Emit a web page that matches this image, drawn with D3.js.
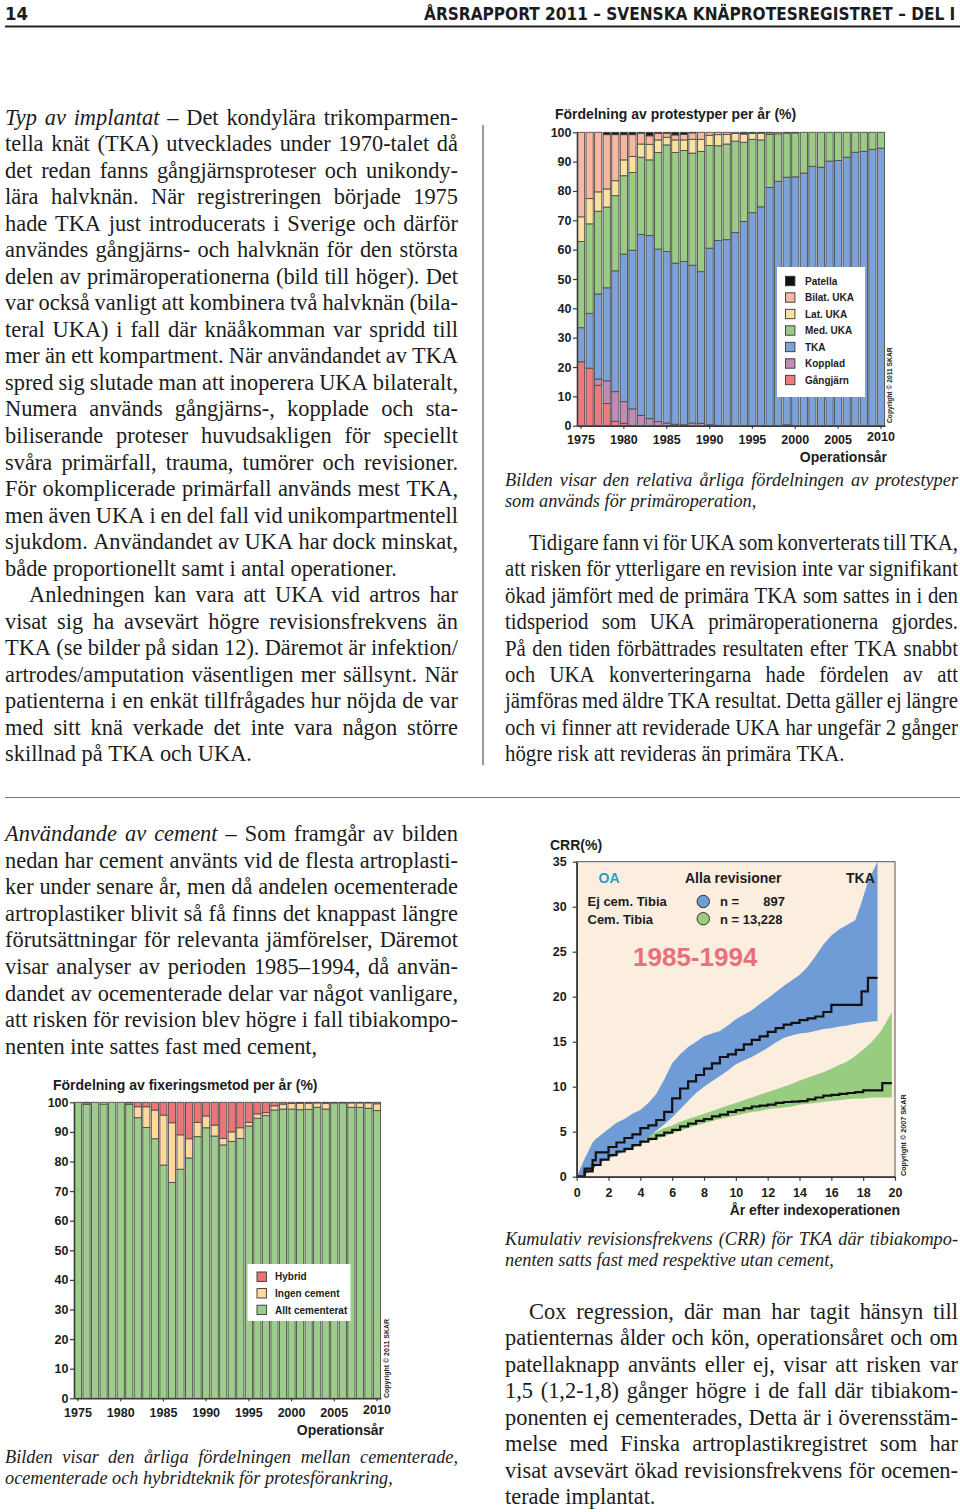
<!DOCTYPE html>
<html><head><meta charset="utf-8">
<script src="https://cdn.jsdelivr.net/npm/d3@7/dist/d3.min.js"></script>
<style>
html,body{margin:0;padding:0;background:#fff;}
svg{display:block;}
</style></head>
<body>
<svg id="page" width="960" height="1512"></svg>
<script>
// ---------------- DATA ----------------
const topYears = [1975,1976,1977,1978,1979,1980,1981,1982,1983,1984,1985,1986,1987,1988,1989,1990,1991,1992,1993,1994,1995,1996,1997,1998,1999,2000,2001,2002,2003,2004,2005,2006,2007,2008,2009,2010];
const gangjarn = [21.8,19.6,13.8,7.6,1.5,0.8,0,0,0,0,0,0,0,0,0,0,0,0,0,0,0,0,0,0,0,0,0,0,0,0,0,0,0,0,0,0];
const kopplad  = [0,0,2.1,7.7,10.1,7.4,5.7,3.5,2.4,1.4,0.9,0.5,0.3,0.9,0.8,0.3,0.1,0,0,0,0,0,0,0,0.3,0,0,0,0,0,0,0,0,0,0,0];
const tka      = [11.6,18.7,29.0,31.7,41.2,50.3,54.1,61.7,62.4,58.8,58.5,54.9,55.7,53.8,51.7,60.2,63.0,63.4,65.8,69.6,72.6,74.6,81.2,83.3,84.4,84.8,86.1,88.4,88.1,90.2,90.4,91.5,93.2,93.5,94.2,94.6];
const medUka   = [29.4,30.5,28.2,27.5,25.6,26.7,26.5,26.3,25.8,32.9,36.3,37.7,37.8,38.2,41.0,35.0,32.3,32.6,31.2,27.0,25.0,22.8,18.1,16.2,15.0,15.0,13.9,11.6,11.9,9.8,9.6,8.5,6.8,6.5,5.8,5.4];
const latUka   = [8.4,8.6,6.6,6.2,5.1,5.4,5.5,4.5,5.3,4.3,2.6,4.3,3.6,4.7,4.1,3.5,3.8,3.3,2.6,2.8,2.0,2.3,0.5,0.5,0.3,0.2,0,0,0,0,0,0,0,0,0,0];
const bilatUka = [28.8,22.6,20.3,18.5,15.7,8.6,7.4,3.7,2.9,2.2,1.4,1.7,1.9,2.2,2.4,1.0,0.8,0.7,0.4,0.3,0,0.3,0.2,0,0,0,0,0,0,0,0,0,0,0,0,0];
const patella  = [0,0,0,0.8,0.8,0.8,0.8,0.3,1.2,0.4,0.3,0.9,0.7,0.2,0,0,0,0,0,0.3,0.4,0,0,0,0,0,0,0,0,0,0,0,0,0,0,0];
const topKeys  = ["Gångjärn","Kopplad","TKA","Med. UKA","Lat. UKA","Bilat. UKA","Patella"];

const fixYears = [1975,1976,1977,1978,1979,1980,1981,1982,1983,1984,1985,1986,1987,1988,1989,1990,1991,1992,1993,1994,1995,1996,1997,1998,1999,2000,2001,2002,2003,2004,2005,2006,2007,2008,2009,2010];
const alltCem  = [100,99.3,100,99.4,100,100,99.3,94.8,91.5,87.7,78.8,72.9,77.4,81.2,88.4,91.4,88.6,85.6,86.8,87.8,92.0,94.6,95.5,97.4,97.7,97.7,97.5,97.6,98.3,97.7,99.8,99.8,98.3,98.3,98.0,97.2];
const ingenCem = [0,0.5,0,0.6,0,0,0.5,3.7,7.0,9.7,16.9,20.2,11.6,6.5,4.8,4.0,3.7,2.2,3.2,3.6,1.2,1.5,1.0,1.4,1.7,1.9,2.2,2.1,1.5,2.0,0.2,0.2,1.5,1.5,1.8,2.3];
const hybrid   = [0,0.2,0,0,0,0,0.2,1.5,1.5,2.6,4.3,6.9,11.0,12.3,6.8,4.6,7.7,12.2,10.0,8.6,6.8,3.9,3.5,1.2,0.6,0.4,0.3,0.3,0.2,0.3,0,0,0.2,0.2,0.2,0.5];
const fixKeys  = ["Allt cementerat","Ingen cement","Hybrid"];

const pctTicks  = [0,10,20,30,40,50,60,70,80,90,100];
const yearTicks = [1975,1980,1985,1990,1995,2000,2005,2010];

// CRR: uncemented tibia (blue), cemented tibia (green)
const blueT  = [0,0.5,1,1.2,1.5,2,2.5,3,3.5,4,4.5,5,5.5,6,6.5,7,7.5,8,8.5,9,9.5,10,10.5,11,11.5,12,12.5,13,13.5,14,14.5,15,15.5,16,16.5,17,17.5,17.9,18.3,18.9];
const blueKM = [0,0.9,1.85,2.7,2.7,3.3,3.8,4.3,4.7,5.4,5.7,6.3,7.2,8.7,9.8,10.6,11.3,12.0,12.6,13.3,13.6,14.1,14.7,15.2,15.6,16.1,16.5,16.9,17.1,17.4,17.6,17.8,18.3,19.1,19.1,19.1,19.1,20.6,22.1,22.1];
const blueHi = [0,2.0,3.8,4.2,4.6,5.3,6.0,6.4,7.0,7.4,8.2,9.2,10.8,12.6,13.6,14.4,15.0,15.6,15.9,16.2,16.8,17.5,18.0,18.5,19.2,19.8,20.5,21.2,21.8,22.4,23.3,24.5,25.8,26.8,27.5,28.0,28.5,30.5,32.8,35.0];
const blueLo = [0,0.2,0.8,1.1,1.6,2.0,2.4,2.8,3.2,3.7,4.4,5.1,5.8,6.6,7.5,8.4,9.3,10.0,10.6,11.2,11.8,12.5,12.9,13.3,13.8,14.3,14.9,15.4,15.7,15.9,16.0,16.2,16.4,16.5,16.7,16.8,17.0,17.1,17.2,17.3];
const greenT  = [0,0.5,1,1.5,2,2.5,3,3.5,4,4.5,5,5.5,6,6.5,7,7.5,8,8.5,9,9.5,10,10.5,11,11.5,12,12.5,13,13.5,14,14.5,15,15.5,16,16.5,17,17.5,18,18.5,19,19.2,19.8];
const greenKM = [0,0.6,1.3,1.9,2.4,2.8,3.1,3.5,3.9,4.2,4.6,4.9,5.2,5.6,5.9,6.2,6.4,6.7,6.9,7.2,7.4,7.6,7.8,7.9,8.0,8.2,8.3,8.35,8.4,8.6,8.8,9.0,9.1,9.2,9.3,9.4,9.6,9.6,9.6,10.4,10.4];
const greenHi = [0,0.8,1.6,2.2,2.7,3.1,3.5,3.9,4.3,4.7,5.0,5.4,5.7,6.1,6.4,6.7,7.0,7.3,7.6,7.9,8.2,8.5,8.8,9.1,9.4,9.7,10.0,10.3,10.7,11.0,11.3,11.6,12.0,12.4,12.8,13.4,14.1,14.9,15.9,16.4,18.3];
const greenLo = [0,0.4,1.0,1.6,2.1,2.5,2.8,3.2,3.6,3.9,4.2,4.5,4.8,5.1,5.4,5.7,5.9,6.2,6.4,6.6,6.8,7.0,7.2,7.3,7.5,7.6,7.7,7.8,8.0,8.1,8.2,8.3,8.4,8.5,8.6,8.7,8.7,8.8,8.8,8.8,8.8];
const crrYTicks = [0,5,10,15,20,25,30,35];
const crrXTicks = [0,2,4,6,8,10,12,14,16,18,20];

// ---------------- TEXT ----------------
const leftTop = [
 {t:"Typ av implantat – Det kondylära trikomparmen-", it:3},
 {t:"tella knät (TKA) utvecklades under 1970-talet då"},
 {t:"det redan fanns gångjärnsproteser och unikondy-"},
 {t:"lära halvknän. När registreringen började 1975"},
 {t:"hade TKA just introducerats i Sverige och därför"},
 {t:"användes gångjärns- och halvknän för den största"},
 {t:"delen av primäroperationerna (bild till höger). Det"},
 {t:"var också vanligt att kombinera två halvknän (bila-"},
 {t:"teral UKA) i fall där knäåkomman var spridd till"},
 {t:"mer än ett kompartment. När användandet av TKA"},
 {t:"spred sig slutade man att inoperera UKA bilateralt,"},
 {t:"Numera används gångjärns-, kopplade och sta-"},
 {t:"biliserande proteser huvudsakligen för speciellt"},
 {t:"svåra primärfall, trauma, tumörer och revisioner."},
 {t:"För okomplicerade primärfall används mest TKA,"},
 {t:"men även UKA i en del fall vid unikompartmentell"},
 {t:"sjukdom. Användandet av UKA har dock minskat,"},
 {t:"både proportionellt samt i antal operationer.", last:true},
 {t:"Anledningen kan vara att UKA vid artros har", indent:24},
 {t:"visat sig ha avsevärt högre revisionsfrekvens än"},
 {t:"TKA (se bilder på sidan 12). Däremot är infektion/"},
 {t:"artrodes/amputation väsentligen mer sällsynt. När"},
 {t:"patienterna i en enkät tillfrågades hur nöjda de var"},
 {t:"med sitt knä verkade det inte vara någon större"},
 {t:"skillnad på TKA och UKA.", last:true}
];
const rightTop = [
 {t:"Tidigare fann vi för UKA som konverterats till TKA,", indent:24},
 {t:"att risken för ytterligare en revision inte var signifikant"},
 {t:"ökad jämfört med de primära TKA som sattes in i den"},
 {t:"tidsperiod som UKA primäroperationerna gjordes."},
 {t:"På den tiden förbättrades resultaten efter TKA snabbt"},
 {t:"och UKA konverteringarna hade fördelen av att"},
 {t:"jämföras med äldre TKA resultat. Detta gäller ej längre"},
 {t:"och vi finner att reviderade UKA har ungefär 2 gånger"},
 {t:"högre risk att revideras än primära TKA.", last:true}
];
const leftBottom = [
 {t:"Användande av cement – Som framgår av bilden", it:3},
 {t:"nedan har cement använts vid de flesta artroplasti-"},
 {t:"ker under senare år, men då andelen ocementerade"},
 {t:"artroplastiker blivit så få finns det knappast längre"},
 {t:"förutsättningar för relevanta jämförelser, Däremot"},
 {t:"visar analyser av perioden 1985–1994, då använ-"},
 {t:"dandet av ocementerade delar var något vanligare,"},
 {t:"att risken för revision blev högre i fall tibiakompo-"},
 {t:"nenten inte sattes fast med cement,", last:true}
];
const rightBottom = [
 {t:"Cox regression, där man har tagit hänsyn till", indent:24},
 {t:"patienternas ålder och kön, operationsåret och om"},
 {t:"patellaknapp använts eller ej, visar att risken var"},
 {t:"1,5 (1,2-1,8) gånger högre i de fall där tibiakom-"},
 {t:"ponenten ej cementerades, Detta är i överensstäm-"},
 {t:"melse med Finska artroplastikregistret som har"},
 {t:"visat avsevärt ökad revisionsfrekvens för ocemen-"},
 {t:"terade implantat.", last:true}
];
const capTop = [
 {t:"Bilden visar den relativa årliga fördelningen av protestyper"},
 {t:"som används för primäroperation,", last:true}
];
const capFix = [
 {t:"Bilden visar den årliga fördelningen mellan cementerade,"},
 {t:"ocementerade och hybridteknik för protesförankring,", last:true}
];
const capCrr = [
 {t:"Kumulativ revisionsfrekvens (CRR) för TKA där tibiakompo-"},
 {t:"nenten satts fast med respektive utan cement,", last:true}
];

// ---------------- DRAW ----------------
const SANS = "'Liberation Sans', Arial, Helvetica, sans-serif";
const SERIF = "'Liberation Serif', 'Times New Roman', serif";
const NARROW = "'Liberation Sans Narrow', 'DejaVu Sans Condensed', 'Liberation Sans', sans-serif";
const INK = "#1c1c1c";
const svg = d3.select("#page");
svg.append("rect").attr("width",960).attr("height",1512).attr("fill","#fff");

// header
svg.append("text").attr("x",5).attr("y",20).text("14")
  .style("font-family",NARROW).style("font-weight","bold").style("font-size","18.5px").attr("fill",INK);
const hdr = svg.append("text").text("ÅRSRAPPORT 2011 – SVENSKA KNÄPROTESREGISTRET – DEL I")
  .style("font-family",NARROW).style("font-weight","bold").style("font-size","18.5px").attr("fill",INK);
{
  const w = hdr.node().getComputedTextLength();
  const s = 532 / w;
  hdr.attr("transform", `translate(424,20) scale(${s},1)`);
}
svg.append("line").attr("x1",5).attr("x2",960).attr("y1",26.5).attr("y2",26.5).attr("stroke","#222").attr("stroke-width",2);

// separators
svg.append("line").attr("x1",483).attr("x2",483).attr("y1",125).attr("y2",765).attr("stroke","#333").attr("stroke-width",1);
svg.append("line").attr("x1",5).attr("x2",960).attr("y1",797.5).attr("y2",797.5).attr("stroke","#777").attr("stroke-width",1);

// justified text helper
function textLine(g, L, x, y, width, o) {
  const words = L.t.split(" ").filter(w => w.length);
  const ind = L.indent || 0;
  const sx = o.sx || 1;
  const t = g.append("text")
    .style("font-family",o.family).style("font-size",o.fs+"px")
    .style("font-style",o.italic ? "italic" : "normal").attr("fill",INK);
  const spans = words.map((w,i) => t.append("tspan").text(w)
    .style("font-style", (L.it && i < L.it) ? "italic" : null));
  const widths = spans.map(s => s.node().getComputedTextLength());
  const total = d3.sum(widths);
  const sp = o.fs * 0.25;
  const W = width - ind;
  let gap = sp, s = sx;
  if (!L.last && words.length > 1) gap = (W / sx - total) / (words.length - 1);
  if (gap < sp * 0.55) gap = sp * 0.55;
  const natural = total + gap * (words.length - 1);
  if (natural * s > W) s = W / natural;
  let cx = 0;
  spans.forEach((sp_,i) => { sp_.attr("x", cx); cx += widths[i] + gap; });
  t.attr("transform",`translate(${x+ind},${y}) scale(${s},1)`);
}
function paragraph(lines, x, y0, lh, width, o) {
  const g = svg.append("g");
  lines.forEach((L,i) => textLine(g, L, x, y0 + i*lh, width, o));
}
const body = {family:SERIF, fs:22.4};
const bodyNarrow = {family:SERIF, fs:22.4, sx:0.93};
const cap = {family:SERIF, fs:18.3, italic:true};
paragraph(leftTop, 5, 124.5, 26.54, 453, body);
paragraph(rightTop, 505, 550, 26.4, 453, bodyNarrow);
paragraph(leftBottom, 5, 841, 26.6, 453, body);
paragraph(rightBottom, 505, 1319, 26.45, 453, body);
paragraph(capTop, 505, 486, 20.5, 453, cap);
paragraph(capFix, 5, 1463, 20.5, 453, cap);
paragraph(capCrr, 505, 1245, 20.5, 453, cap);

// axis styling helper
function styleAxis(sel, fs) {
  sel.select(".domain").attr("stroke","#3a3a3a").attr("stroke-width",1.6);
  sel.selectAll(".tick line").attr("stroke","#3a3a3a").attr("stroke-width",1.2);
  sel.selectAll(".tick text").style("font-family",SANS).style("font-weight","bold")
     .style("font-size",fs+"px").attr("fill",INK);
}

// stacked bar chart
function stackedChart(cfg) {
  const g = svg.append("g");
  const table = cfg.years.map((yr,i) => {
    const row = {year: yr};
    cfg.keys.forEach((k,j) => row[k] = cfg.series[j][i]);
    return row;
  });
  const stacked = d3.stack().keys(cfg.keys)(table);
  const x = d3.scaleBand().domain(cfg.years).range(cfg.xRange).paddingInner(0.16).paddingOuter(0.05);
  const y = d3.scaleLinear().domain([0,100]).range(cfg.yRange);
  stacked.forEach((layer,j) => {
    g.append("g").selectAll("rect").data(layer.filter(d => d[1]-d[0] > 0.05)).join("rect")
      .attr("x", d => x(d.data.year)).attr("width", x.bandwidth())
      .attr("y", d => y(d[1])).attr("height", d => y(d[0]) - y(d[1]))
      .attr("fill", cfg.colors[j]).attr("stroke","#4d4d4d").attr("stroke-width",0.9);
  });
  const ya = g.append("g").attr("transform",`translate(${cfg.xRange[0]},0)`)
    .call(d3.axisLeft(y).tickValues(pctTicks).tickSize(4).tickPadding(1.5).tickSizeOuter(0));
  styleAxis(ya, 12.5);
  const xa = g.append("g").attr("transform",`translate(0,${cfg.yRange[0]})`)
    .call(d3.axisBottom(x).tickValues(yearTicks).tickSize(3).tickPadding(6.5).tickSizeOuter(0));
  styleAxis(xa, 12.5);
  xa.selectAll(".tick text").filter(d => d === 2010).attr("y", 6.5);
  g.append("text").attr("x",cfg.titleX).attr("y",cfg.titleY).text(cfg.title)
    .style("font-family",SANS).style("font-weight","bold").style("font-size","14px").attr("fill",INK);
  g.append("text").attr("x",cfg.xTitleX).attr("y",cfg.xTitleY).attr("text-anchor","end").text("Operationsår")
    .style("font-family",SANS).style("font-weight","bold").style("font-size","14px").attr("fill",INK);
  const lg = g.append("g");
  lg.append("rect").attr("x",cfg.legend.x).attr("y",cfg.legend.y).attr("width",cfg.legend.w).attr("height",cfg.legend.h).attr("fill","#fff");
  const order = cfg.keys.map((k,j) => ({k, c: cfg.colors[j]})).reverse();
  order.forEach((d,i) => {
    const cy = cfg.legend.y0 + i*cfg.legend.dy;
    lg.append("rect").attr("x",cfg.legend.sx).attr("y",cy-4.7).attr("width",9.4).attr("height",9.4)
      .attr("fill",d.c).attr("stroke","#333").attr("stroke-width",0.9);
    lg.append("text").attr("x",cfg.legend.tx).attr("y",cy+3.6).text(d.k)
      .style("font-family",SANS).style("font-weight","bold").style("font-size","10px").attr("fill",INK);
  });
  g.append("text").attr("transform",`translate(${cfg.copy.x},${cfg.copy.y}) rotate(-90)`).text(cfg.copy.t)
    .style("font-family",SANS).style("font-weight","bold").style("font-size",cfg.copy.fs+"px").attr("fill",INK);
}

stackedChart({
  years: topYears, keys: topKeys,
  series: [gangjarn, kopplad, tka, medUka, latUka, bilatUka, patella],
  colors: ["#ee7a80","#c08cb6","#7ba3d9","#9ccb86","#fbe1a0","#f7b7a0","#111111"],
  xRange: [577, 885], yRange: [425.7, 132.3],
  title: "Fördelning av protestyper per år (%)", titleX: 555, titleY: 119,
  xTitleX: 887, xTitleY: 462,
  legend: {x:777, y:267, w:88, h:130, y0:281, dy:16.5, sx:785.5, tx:805},
  copy: {x:892, y:423, t:"Copyright © 2011 SKAR", fs:6.7}
});

stackedChart({
  years: fixYears, keys: fixKeys,
  series: [alltCem, ingenCem, hybrid],
  colors: ["#9dcd8a","#fdd9a0","#ee7479"],
  xRange: [74, 381], yRange: [1398.3, 1102.3],
  title: "Fördelning av fixeringsmetod per år (%)", titleX: 53, titleY: 1090,
  xTitleX: 384, xTitleY: 1435,
  legend: {x:247.5, y:1264, w:103, h:57, y0:1276.7, dy:16.6, sx:257, tx:275},
  copy: {x:389, y:1398, t:"Copyright © 2011 SKAR", fs:7}
});

// CRR chart
(function(){
  const g = svg.append("g");
  const x = d3.scaleLinear().domain([0,20]).range([576.7, 895]);
  const y = d3.scaleLinear().domain([0,35]).range([1176.7, 861.7]);
  g.append("rect").attr("x",x(0)).attr("y",y(35)).attr("width",x(20)-x(0)).attr("height",y(0)-y(35))
    .attr("fill","#fbeedf").attr("stroke","#555").attr("stroke-width",1);
  const area = d3.area().x(d => x(d.t)).y0(d => y(d.lo)).y1(d => y(d.hi)).curve(d3.curveLinear);
  const line = d3.line().x(d => x(d.t)).y(d => y(d.v)).curve(d3.curveStepAfter);
  const green = greenT.map((t,i) => ({t, lo: greenLo[i], hi: greenHi[i], v: greenKM[i]}));
  const blue = blueT.map((t,i) => ({t, lo: blueLo[i], hi: blueHi[i], v: blueKM[i]}));
  g.append("path").datum(green).attr("d",area).attr("fill","#98cc80");
  g.append("path").datum(blue).attr("d",area).attr("fill","#6f9bd6");
  g.append("path").datum(green).attr("d",line).attr("fill","none").attr("stroke","#111").attr("stroke-width",2.2);
  g.append("path").datum(blue).attr("d",line).attr("fill","none").attr("stroke","#111").attr("stroke-width",2.2);
  const ya = g.append("g").attr("transform",`translate(${x(0)},0)`)
    .call(d3.axisLeft(y).tickValues(crrYTicks).tickSize(4).tickPadding(6).tickSizeOuter(0));
  styleAxis(ya, 12.5);
  const xa = g.append("g").attr("transform",`translate(0,${y(0)})`)
    .call(d3.axisBottom(x).tickValues(crrXTicks).tickSize(4).tickPadding(7.5).tickSizeOuter(0));
  styleAxis(xa, 12.5);
  const T = (tx, ty, s, fs, opts={}) => g.append("text").attr("x",tx).attr("y",ty).text(s)
    .attr("text-anchor", opts.anchor || "start")
    .style("font-family",SANS).style("font-weight","bold").style("font-size",fs+"px")
    .attr("fill", opts.fill || INK);
  T(550, 850, "CRR(%)", 14);
  T(598.5, 883, "OA", 14, {fill:"#2a9dd0"});
  T(685, 883, "Alla revisioner", 14);
  T(846, 883, "TKA", 14);
  T(587.5, 906, "Ej cem. Tibia", 13);
  T(587.5, 923.5, "Cem. Tibia", 13);
  g.append("circle").attr("cx",703.3).attr("cy",901.5).attr("r",6.2).attr("fill","#6f9bd6").attr("stroke","#333").attr("stroke-width",1);
  g.append("circle").attr("cx",703.3).attr("cy",918.7).attr("r",6.2).attr("fill","#98cc80").attr("stroke","#333").attr("stroke-width",1);
  T(720, 906, "n =", 13);
  T(785, 906, "897", 13, {anchor:"end"});
  T(720, 923.5, "n = 13,228", 13);
  T(633, 966, "1985-1994", 26, {fill:"#e8707a"});
  T(900, 1215, "År efter indexoperationen", 14, {anchor:"end"});
  g.append("text").attr("transform","translate(906,1176) rotate(-90)").text("Copyright © 2007 SKAR")
    .style("font-family",SANS).style("font-weight","bold").style("font-size","7.2px").attr("fill",INK);
})();
</script>
</body></html>
